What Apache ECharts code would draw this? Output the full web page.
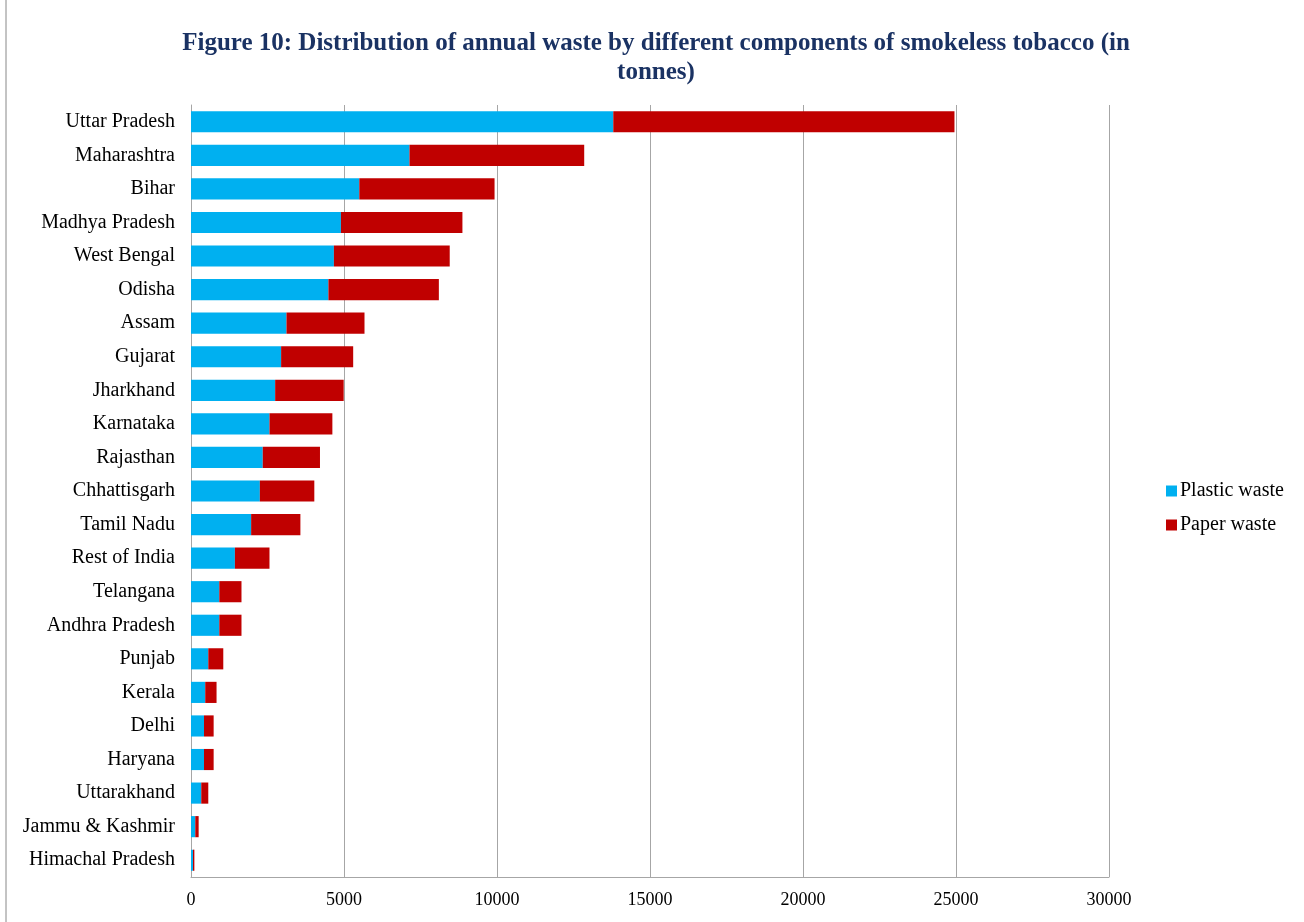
<!DOCTYPE html>
<html>
<head>
<meta charset="utf-8">
<script src="https://cdn.jsdelivr.net/npm/echarts@6/dist/echarts.min.js"></script>
<style>html,body{margin:0;padding:0;background:#fff;}#c{width:1304px;height:922px;}</style>
</head>
<body>
<div id="c"></div>
<script>
const categories = ["Uttar Pradesh","Maharashtra","Bihar","Madhya Pradesh","West Bengal","Odisha","Assam","Gujarat","Jharkhand","Karnataka","Rajasthan","Chhattisgarh","Tamil Nadu","Rest of India","Telangana","Andhra Pradesh","Punjab","Kerala","Delhi","Haryana","Uttarakhand","Jammu & Kashmir","Himachal Pradesh"];
const plasticWaste = [13800,7140,5500,4900,4670,4490,3120,2945,2750,2565,2345,2250,1965,1435,925,925,565,465,425,425,335,140,65];
const paperWaste = [11150,5710,4420,3970,3785,3610,2550,2355,2240,2055,1870,1780,1610,1130,725,725,490,370,315,315,230,110,45];
const xTicks = [0,5000,10000,15000,20000,25000,30000];
const titleText = "Figure 10: Distribution of annual waste by different components of smokeless tobacco (in\ntonnes)";

const chart = echarts.init(document.getElementById('c'));
const serif = "'Liberation Serif','DejaVu Serif',serif";
chart.setOption({
  backgroundColor: '#fff',
  animation: false,
  title: {
    text: titleText,
    left: 651, top: 24, textAlign: 'center',
    textStyle: {fontFamily: serif, fontWeight: 'bold', fontSize: 25, color: '#1A3263', lineHeight: 29}
  },
  legend: {
    orient: 'vertical', left: 1161, top: 476,
    itemWidth: 11, itemHeight: 11, itemGap: 14,
    icon: 'rect',
    textStyle: {fontFamily: serif, fontSize: 20, color: '#000', padding: [0,0,0,-2]},
    data: ['Plastic waste','Paper waste']
  },
  grid: {left: 191, right: 195, top: 105, bottom: 45, containLabel: false},
  xAxis: {
    type: 'value', min: xTicks[0], max: xTicks[xTicks.length-1], interval: 5000,
    axisLine: {show: true, lineStyle: {color: '#a6a6a6', width: 1}},
    axisTick: {show: false},
    splitLine: {show: true, lineStyle: {color: '#a6a6a6', width: 1}},
    axisLabel: {fontFamily: serif, fontSize: 18, color: '#000', margin: 14, formatter: v => String(v)}
  },
  yAxis: {
    type: 'category', data: categories, inverse: true,
    axisLine: {show: true, lineStyle: {color: '#a6a6a6', width: 1}},
    axisTick: {show: false},
    axisLabel: {fontFamily: serif, fontSize: 20, color: '#000', margin: 16}
  },
  series: [
    {name: 'Plastic waste', type: 'bar', stack: 'w', data: plasticWaste, barCategoryGap: '37%', itemStyle: {color: '#00B0F0'}},
    {name: 'Paper waste', type: 'bar', stack: 'w', data: paperWaste, barCategoryGap: '37%', itemStyle: {color: '#C00000'}}
  ],
  graphic: [{type: 'line', shape: {x1: 6, y1: 0, x2: 6, y2: 922}, style: {stroke: '#888', lineWidth: 1}}]
});
</script>
</body>
</html>
